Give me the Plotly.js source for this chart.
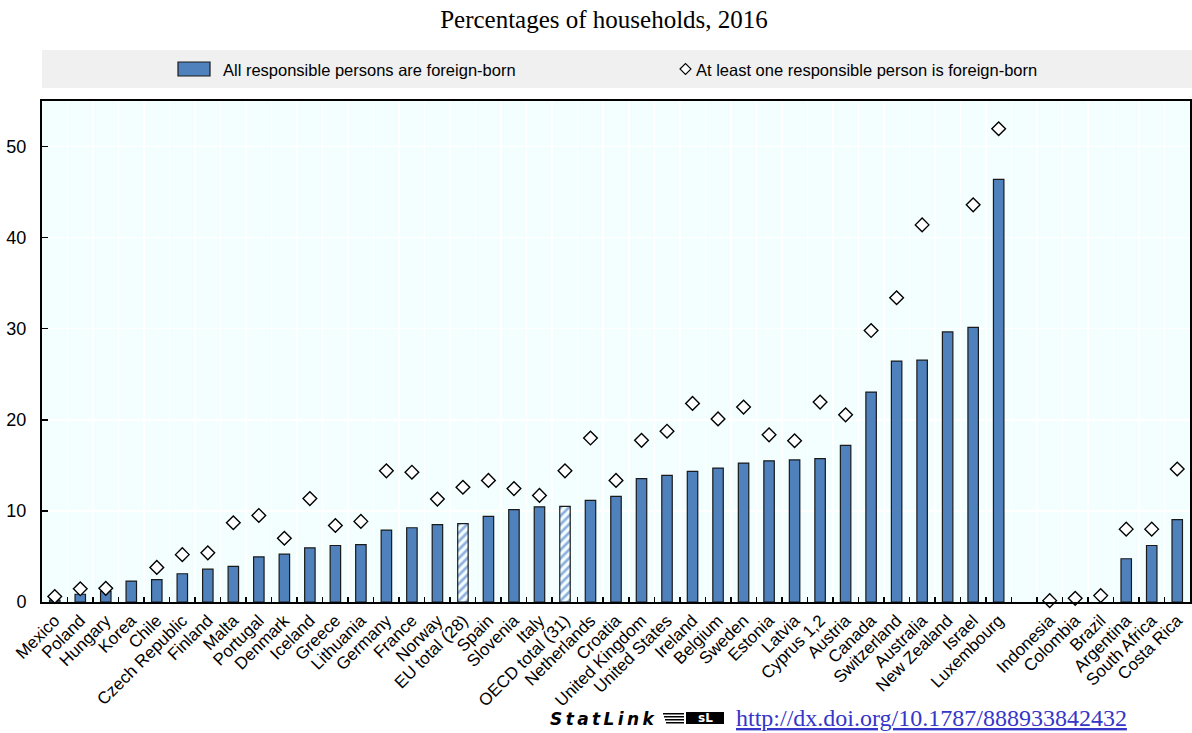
<!DOCTYPE html>
<html>
<head>
<meta charset="utf-8">
<script src="https://cdn.plot.ly/plotly-3.0.1.min.js"></script>
<style>
  html, body { margin: 0; padding: 0; background: #fff; }
  #chart { width: 1192px; height: 733px; }
</style>
</head>
<body>
<div id="chart"></div>
<script>
// ---- Data ----
const categories = ["Mexico","Poland","Hungary","Korea","Chile","Czech Republic","Finland","Malta","Portugal","Denmark","Iceland","Greece","Lithuania","Germany","France","Norway","EU total (28)","Spain","Slovenia","Italy","OECD total (31)","Netherlands","Croatia","United Kingdom","United States","Ireland","Belgium","Sweden","Estonia","Latvia","Cyprus 1,2","Austria","Canada","Switzerland","Australia","New Zealand","Israel","Luxembourg"," ","Indonesia","Colombia","Brazil","Argentina","South Africa","Costa Rica"];

const allForeignBorn = [0.2,0.85,1.15,2.3,2.45,3.1,3.6,3.9,4.95,5.25,5.95,6.2,6.3,7.9,8.15,8.5,8.6,9.4,10.15,10.45,10.5,11.15,11.6,13.55,13.9,14.35,14.7,15.25,15.5,15.6,15.75,17.2,23.05,26.45,26.55,29.65,30.15,46.4,null,null,null,null,4.75,6.2,9.05];

const atLeastOneForeignBorn = [0.6,1.45,1.5,null,3.8,5.2,5.4,8.7,9.5,7.0,11.35,8.4,8.85,14.4,14.25,11.3,12.6,13.35,12.45,11.7,14.4,18.0,13.35,17.75,18.75,21.8,20.1,21.4,18.35,17.7,21.95,20.55,29.8,33.4,41.4,null,43.6,51.95,null,0.15,0.4,0.7,8.0,8.0,14.6];

const aggregateCategories = ["EU total (28)","OECD total (31)"];

const seriesNames = ["All responsible persons are foreign-born","At least one responsible person is foreign-born"];
const yTickValues = [0,10,20,30,40,50];

// ---- Styles ----
const BLUE = "#4f81bd";
const HATCH = "#8fb0de";
const W = 1192, H = 733;
const M = {l: 42, r: 2, t: 101, b: 131};
const PW = W - M.l - M.r, PH = H - M.t - M.b;
const px = x => (x - M.l) / PW;
const py = y => (H - M.b - y) / PH;

const isAgg = categories.map(c => aggregateCategories.includes(c));

const barTrace = {
  type: "bar",
  x: categories,
  y: allForeignBorn,
  name: seriesNames[0],
  width: 0.41,
  marker: {
    color: isAgg.map(a => a ? HATCH : BLUE),
    line: {color: "#1a1a1a", width: 1.2},
    pattern: {
      shape: isAgg.map(a => a ? "/" : ""),
      bgcolor: "white",
      size: 6,
      solidity: 0.45
    }
  },
  showlegend: false,
  hoverinfo: "x+y"
};

const diamondTrace = {
  type: "scatter",
  mode: "markers",
  x: categories,
  y: atLeastOneForeignBorn,
  name: seriesNames[1],
  cliponaxis: false,
  marker: {symbol: "diamond", size: 10.5, color: "white", line: {color: "#000", width: 1.4}},
  showlegend: false,
  hoverinfo: "x+y"
};

const SANS = "'Liberation Sans', Arial, sans-serif";
const SERIF = "'Liberation Serif', 'Times New Roman', serif";
const SP = "\u2009";

const layout = {
  width: W, height: H,
  margin: M,
  paper_bgcolor: "white",
  plot_bgcolor: "#f3feff",
  title: {
    text: "Percentages of households, 2016",
    font: {family: SERIF, size: 25, color: "#000"},
    x: 604 / W, xanchor: "center", xref: "container",
    y: 1 - 19 / H, yanchor: "middle", yref: "container"
  },
  xaxis: {
    type: "category",
    categoryorder: "array",
    categoryarray: categories,
    range: [-0.5, categories.length - 0.5],
    tickson: "boundaries",
    ticks: "inside",
    ticklen: 5,
    tickwidth: 1.5,
    tickcolor: "#000",
    tickangle: -45,
    tickfont: {family: SANS, size: 17, color: "#000"},
    showgrid: true,
    gridcolor: "white",
    gridwidth: 1.5,
    showline: true,
    linecolor: "#000",
    linewidth: 2,
    mirror: true,
    zeroline: false,
    automargin: false,
    fixedrange: true
  },
  yaxis: {
    range: [0, 55],
    tickvals: yTickValues,
    ticks: "inside",
    ticklen: 6,
    tickwidth: 1.5,
    tickcolor: "#000",
    tickfont: {family: SANS, size: 18, color: "#000"},
    ticklabelstandoff: 10,
    showgrid: true,
    gridcolor: "white",
    gridwidth: 1.5,
    showline: true,
    linecolor: "#000",
    linewidth: 2,
    mirror: true,
    zeroline: false,
    automargin: false,
    fixedrange: true
  },
  shapes: [
    // legend band
    {type: "rect", xref: "paper", yref: "paper", x0: px(42), x1: px(1192), y0: py(88), y1: py(50),
     fillcolor: "#f0f0f0", line: {width: 0}, layer: "below"},
    // legend bar icon
    {type: "rect", xref: "paper", yref: "paper", x0: px(178), x1: px(210), y0: py(76), y1: py(62),
     fillcolor: BLUE, line: {color: "#1a1a1a", width: 1.2}},
    // legend diamond icon
    {type: "path", xref: "paper", yref: "paper",
     path: `M ${px(680)} ${py(69)} L ${px(685.5)} ${py(63.5)} L ${px(691)} ${py(69)} L ${px(685.5)} ${py(74.5)} Z`,
     fillcolor: "white", line: {color: "#000", width: 1.1}},
    // statlink logo stripes
    ...[0,1,2,3].map(i => ({type: "rect", xref: "paper", yref: "paper",
      x0: px(663 + i), x1: px(684), y0: py(713 + i * 3 + 1.5), y1: py(713 + i * 3),
      fillcolor: "#000", line: {width: 0}})),
    {type: "rect", xref: "paper", yref: "paper", x0: px(686), x1: px(724), y0: py(724), y1: py(712),
     fillcolor: "#000", line: {width: 0}}
  ],
  annotations: [
    {text: seriesNames[0], xref: "paper", yref: "paper", x: px(221), y: py(69.5),
     xanchor: "left", yanchor: "middle", showarrow: false,
     font: {family: SANS, size: 16.5, color: "#000"}},
    {text: seriesNames[1], xref: "paper", yref: "paper", x: px(694), y: py(69.5),
     xanchor: "left", yanchor: "middle", showarrow: false,
     font: {family: SANS, size: 16.5, color: "#000"}},
    {text: "<b><i>" + "StatLink".split("").join(SP) + "</i></b>", xref: "paper", yref: "paper", x: px(548), y: py(719),
     xanchor: "left", yanchor: "middle", showarrow: false,
     font: {family: "'DejaVu Sans', Verdana, sans-serif", size: 17, color: "#000"}},
    {text: "<b>sL</b>", xref: "paper", yref: "paper", x: px(705), y: py(718),
     xanchor: "center", yanchor: "middle", showarrow: false,
     font: {family: "'DejaVu Sans', sans-serif", size: 12, color: "#fff"}},
    {text: "<u>http://dx.doi.org/10.1787/888933842432</u>",
     xref: "paper", yref: "paper", x: px(734), y: py(718),
     xanchor: "left", yanchor: "middle", showarrow: false,
     font: {family: SERIF, size: 24, color: "#3535c8"}}
  ]
};

Plotly.newPlot("chart", [barTrace, diamondTrace], layout, {staticPlot: true, displayModeBar: false});
</script>
</body>
</html>
